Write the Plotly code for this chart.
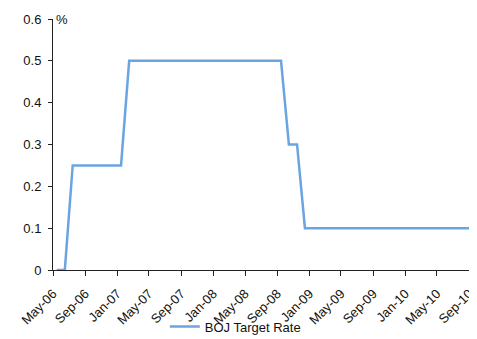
import pandas as pd
import plotly.graph_objects as go

# Monthly BOJ target rate, May-06 .. Oct-10
months = pd.date_range("2006-05-01", "2010-10-01", freq="MS") + pd.Timedelta(days=14)
rate = [
    0.0, 0.0, 0.25, 0.25, 0.25, 0.25, 0.25, 0.25, 0.25,          # May-06 .. Jan-07
    0.5, 0.5, 0.5, 0.5, 0.5, 0.5, 0.5, 0.5, 0.5, 0.5,            # Feb-07 .. Nov-07
    0.5, 0.5, 0.5, 0.5, 0.5, 0.5, 0.5, 0.5, 0.5, 0.5,            # Dec-07 .. Sep-08
    0.3, 0.3,                                                    # Oct-08 .. Nov-08
    0.1, 0.1, 0.1, 0.1, 0.1, 0.1, 0.1, 0.1, 0.1, 0.1, 0.1,       # Dec-08 .. Oct-09
    0.1, 0.1, 0.1, 0.1, 0.1, 0.1, 0.1, 0.1, 0.1, 0.1, 0.1,       # Nov-09 .. Sep-10
    0.0,                                                         # Oct-10
]
tick_dates = pd.date_range("2006-05-01", "2010-09-01", freq="4MS")
y_ticks = [0, 0.1, 0.2, 0.3, 0.4, 0.5, 0.6]
y_ticktext = ["0", "0.1", "0.2", "0.3", "0.4", "0.5", "0.6"]

fig = go.Figure()
fig.add_trace(go.Scatter(
    x=months, y=rate, mode="lines", name="BOJ Target Rate",
    line=dict(color="#6AA5E2", width=2.5),
))

font = dict(family="Liberation Sans, Arial, sans-serif", size=13, color="#111111")

# the page body adds an 8px offset, so the figure is sized to the visible area
fig.update_layout(
    width=469, height=331,
    margin=dict(l=45, r=0, t=11, b=69, autoexpand=False),
    paper_bgcolor="white", plot_bgcolor="white",
    font=font,
    showlegend=True,
    legend=dict(orientation="h", x=0.43, xanchor="center", y=-0.225, yanchor="middle",
                font=font, bgcolor="rgba(0,0,0,0)"),
    xaxis=dict(
        range=["2006-05-01", "2010-10-01"], automargin=False,
        tickvals=tick_dates, tickformat="%b-%y", tickangle=-45, ticklabelstandoff=5,
        ticks="outside", ticklen=5, tickcolor="#222", showline=True, linecolor="#222",
        linewidth=1, showgrid=False, zeroline=False, tickfont=font,
    ),
    yaxis=dict(
        range=[0, 0.6], tickvals=y_ticks, ticktext=y_ticktext, automargin=False,
        ticklabelstandoff=4,
        ticks="outside", ticklen=4, tickcolor="#222", showline=True, linecolor="#222",
        linewidth=1, showgrid=False, zeroline=False, tickfont=font,
    ),
    annotations=[dict(text="%", xref="paper", yref="paper", x=0.0, y=1.0,
                      xanchor="left", yanchor="middle", xshift=1, showarrow=False, font=font)],
)

fig.write_html("out.html")
